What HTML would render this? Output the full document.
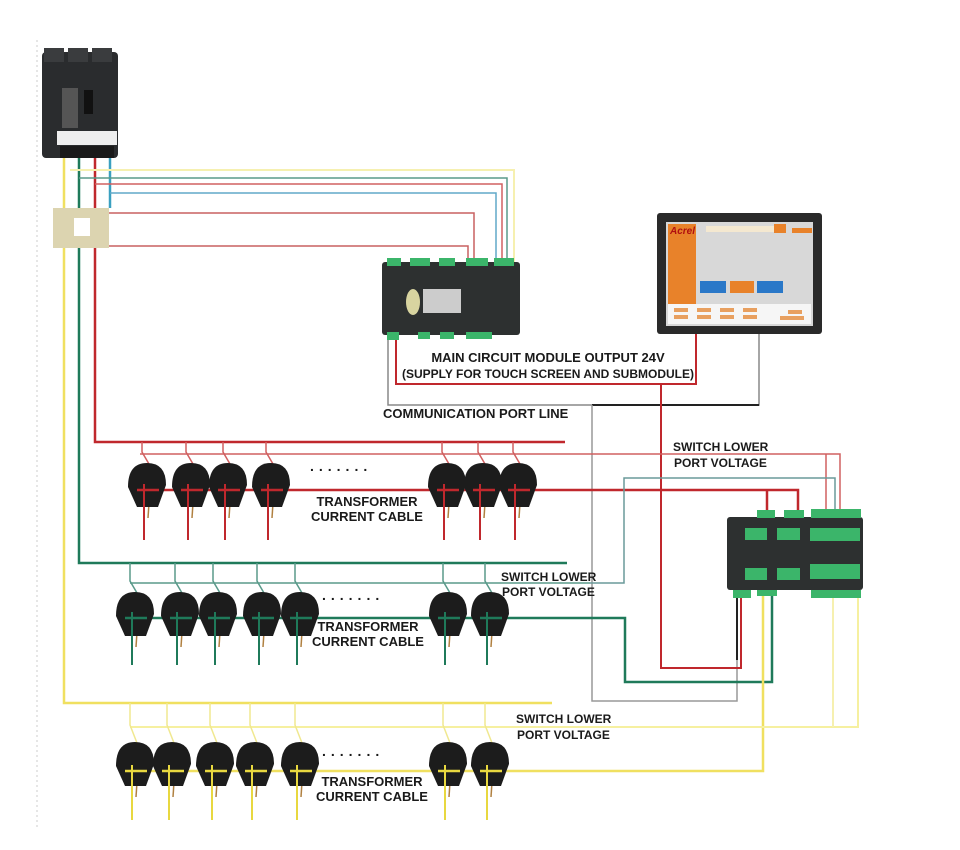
<!DOCTYPE html>
<html><head><meta charset="utf-8"><style>
html,body{margin:0;padding:0;background:#fff}
svg{display:block}
text{font-family:"Liberation Sans",Arial,sans-serif;font-weight:bold;fill:#1a1a1a}
</style></head><body>
<svg id="s" width="960" height="850" viewBox="0 0 960 850" xmlns="http://www.w3.org/2000/svg">
<line x1="37" y1="40" x2="37" y2="830" stroke="#ddd" stroke-width="1.5" stroke-dasharray="2,3"/>
<g fill="none" stroke-linejoin="miter">
<polyline points="64,158 64,703 552,703" stroke="#f0e060" stroke-width="2.5"/>
<polyline points="79,158 79,563 567,563" stroke="#1f7a5a" stroke-width="2.5"/>
<polyline points="95,158 95,442 565,442" stroke="#c0282d" stroke-width="2.5"/>
<line x1="110" y1="158" x2="110" y2="208" stroke="#3aa0c0" stroke-width="2.5"/>
<polyline points="70,170 514,170 514,262" stroke="#f6f0b0" stroke-width="2"/>
<polyline points="79,178 507,178 507,262" stroke="#5a9a8a" stroke-width="1.5"/>
<polyline points="95,184 502,184 502,262" stroke="#d06060" stroke-width="1.5"/>
<polyline points="110,193 496,193 496,262" stroke="#60a8c8" stroke-width="1.5"/>
<polyline points="109,213 474,213 474,262" stroke="#c86060" stroke-width="1.5"/>
<polyline points="109,246 468,246 468,262" stroke="#c86060" stroke-width="1.5"/>
<polyline points="396,335 396,384 696,384 696,334" stroke="#c0282d" stroke-width="2"/>
<polyline points="388,335 388,405 759,405 759,334" stroke="#888" stroke-width="1.5"/>
<line x1="592" y1="405" x2="759" y2="405" stroke="#222" stroke-width="2"/>
<polyline points="592,405 592,701 737,701 737,593" stroke="#999" stroke-width="1.5"/>
<line x1="737" y1="660" x2="737" y2="593" stroke="#222" stroke-width="2"/>
<polyline points="661,384 661,668 741,668 741,593" stroke="#c0282d" stroke-width="2"/>
<polyline points="135,618 625,618 625,682 772,682 772,593" stroke="#1f7a5a" stroke-width="2.5"/>
<polyline points="135,771 763,771 763,593" stroke="#f0e060" stroke-width="2.5"/>
<polyline points="145,490 798,490 798,510" stroke="#c0282d" stroke-width="2.5"/>
<polyline points="767,490 767,510" stroke="#c0282d" stroke-width="2.5"/>
<polyline points="140,454 840,454 840,510" stroke="#d06060" stroke-width="1.5"/>
<line x1="826" y1="454" x2="826" y2="510" stroke="#d06060" stroke-width="1.5"/>
<polyline points="590,583 624,583 624,478 835,478 835,510" stroke="#6a9a9a" stroke-width="1.5"/>
<polyline points="130,583 590,583" stroke="#5a9a8a" stroke-width="1.5"/>
<polyline points="130,727 858,727 858,593" stroke="#f6f0a0" stroke-width="2"/>
<line x1="833" y1="593" x2="833" y2="727" stroke="#f6f0b0" stroke-width="2"/>
</g>
<g id="cts"></g>
<rect x="42" y="52" width="76" height="106" rx="4" fill="#2a2c2e"/>
<rect x="44" y="48" width="20" height="14" fill="#3a3c3e"/><rect x="68" y="48" width="20" height="14" fill="#3a3c3e"/><rect x="92" y="48" width="20" height="14" fill="#3a3c3e"/>
<rect x="62" y="88" width="16" height="40" fill="#555"/><rect x="84" y="90" width="9" height="24" fill="#111"/>
<rect x="57" y="131" width="60" height="14" fill="#eee"/>
<rect x="60" y="146" width="54" height="12" fill="#1a1a1a"/>
<rect x="53" y="208" width="56" height="40" fill="#dcd4b0"/>
<rect x="74" y="218" width="16" height="18" fill="#fff"/>
<rect x="382" y="262" width="138" height="73" rx="3" fill="#2d3030"/>
<g fill="#3bb56a"><rect x="387" y="258" width="14" height="8"/><rect x="410" y="258" width="20" height="8"/><rect x="439" y="258" width="16" height="8"/><rect x="466" y="258" width="22" height="8"/><rect x="494" y="258" width="20" height="8"/>
<rect x="387" y="332" width="12" height="8"/><rect x="418" y="332" width="12" height="7"/><rect x="440" y="332" width="14" height="7"/><rect x="466" y="332" width="26" height="7"/></g>
<ellipse cx="413" cy="302" rx="7" ry="13" fill="#d8d4a0"/>
<rect x="423" y="289" width="38" height="24" fill="#ccc"/>
<rect x="657" y="213" width="165" height="121" rx="3" fill="#2a2a2a"/>
<rect x="666" y="222" width="147" height="104" fill="#d8d8d8"/>
<rect x="668" y="224" width="28" height="80" fill="#e8822a"/>
<text x="670" y="234" font-size="10" style="fill:#b01010;font-style:italic">Acrel</text>
<rect x="706" y="226" width="68" height="6" fill="#f4e8d0"/><rect x="774" y="224" width="12" height="9" fill="#e8822a"/><rect x="792" y="228" width="20" height="5" fill="#e8822a"/>
<rect x="700" y="281" width="26" height="12" fill="#2a78c8"/><rect x="730" y="281" width="24" height="12" fill="#e8822a"/><rect x="757" y="281" width="26" height="12" fill="#2a78c8"/>
<rect x="668" y="304" width="143" height="20" fill="#f6f6f6"/>
<g fill="#e8a060"><rect x="674" y="308" width="14" height="4"/><rect x="697" y="308" width="14" height="4"/><rect x="720" y="308" width="14" height="4"/><rect x="743" y="308" width="14" height="4"/><rect x="674" y="315" width="14" height="4"/><rect x="697" y="315" width="14" height="4"/><rect x="720" y="315" width="14" height="4"/><rect x="743" y="315" width="14" height="4"/><rect x="788" y="310" width="14" height="4"/><rect x="780" y="316" width="24" height="4"/></g>
<rect x="727" y="517" width="136" height="73" rx="3" fill="#2d3030"/>
<g fill="#3bb56a"><rect x="757" y="510" width="18" height="8"/><rect x="784" y="510" width="20" height="8"/><rect x="811" y="509" width="50" height="9"/>
<rect x="745" y="528" width="22" height="12"/><rect x="777" y="528" width="23" height="12"/><rect x="810" y="528" width="50" height="13"/>
<rect x="745" y="568" width="22" height="12"/><rect x="777" y="568" width="23" height="12"/><rect x="810" y="564" width="50" height="15"/>
<rect x="733" y="590" width="18" height="8"/><rect x="757" y="590" width="20" height="6"/><rect x="811" y="590" width="50" height="8"/></g>
<g font-size="13">
<text x="548" y="362" text-anchor="middle">MAIN CIRCUIT MODULE OUTPUT 24V</text>
<text x="548" y="378" text-anchor="middle" font-size="12">(SUPPLY FOR TOUCH SCREEN AND SUBMODULE)</text>
<text x="383" y="418">COMMUNICATION PORT LINE</text>
<text x="673" y="451" font-size="12">SWITCH LOWER</text><text x="674" y="467" font-size="12">PORT VOLTAGE</text>
<text x="501" y="581" font-size="12">SWITCH LOWER</text><text x="502" y="596" font-size="12">PORT VOLTAGE</text>
<text x="516" y="723" font-size="12">SWITCH LOWER</text><text x="517" y="739" font-size="12">PORT VOLTAGE</text>
<text x="367" y="506" text-anchor="middle">TRANSFORMER</text><text x="367" y="521" text-anchor="middle">CURRENT CABLE</text>
<text x="368" y="631" text-anchor="middle">TRANSFORMER</text><text x="368" y="646" text-anchor="middle">CURRENT CABLE</text>
<text x="372" y="786" text-anchor="middle">TRANSFORMER</text><text x="372" y="801" text-anchor="middle">CURRENT CABLE</text>
<text x="310" y="471" font-size="14" letter-spacing="5">.......</text>
<text x="322" y="600" font-size="14" letter-spacing="5">.......</text>
<text x="322" y="756" font-size="14" letter-spacing="5">.......</text>
</g>
</svg>
<script>
var g=document.getElementById('cts'),h='';
function row(xs,cy,main,thin,col,tcol,line,bot){
 xs.forEach(function(x){
  var tx=x-5;
  h+='<polyline points="'+tx+','+main+' '+tx+','+(thin-2)+' '+(tx+7)+','+(cy-24)+'" fill="none" stroke="'+tcol+'" stroke-width="1.5"/>';
  h+='<line x1="'+(x-3)+'" y1="'+cy+'" x2="'+(x-3)+'" y2="'+bot+'" stroke="'+col+'" stroke-width="2"/>';
  h+='<line x1="'+(x+3)+'" y1="'+cy+'" x2="'+(x+1)+'" y2="'+(cy+30)+'" stroke="#b08040" stroke-width="1.5"/>';
  h+='<path d="M'+(x-19)+','+(cy-1)+' Q'+(x-19)+','+(cy-25)+' '+x+','+(cy-25)+' Q'+(x+19)+','+(cy-25)+' '+(x+19)+','+(cy-3)+' L'+(x+11)+','+(cy+19)+' L'+(x-10)+','+(cy+19)+' Z" fill="#1c1c1c"/>';
  h+='<line x1="'+(x-10)+'" y1="'+line+'" x2="'+(x+12)+'" y2="'+line+'" stroke="'+col+'" stroke-width="2.5"/>';
  h+='<line x1="'+(x-3)+'" y1="'+(line-6)+'" x2="'+(x-3)+'" y2="'+(cy+19)+'" stroke="'+col+'" stroke-width="2"/>';
 });
}
row([147,191,228,271,447,483,518],488,442,454,'#c0282d','#d06060',490,540);
row([135,180,218,262,300,448,490],617,563,583,'#1f7a5a','#5a9a8a',618,665);
row([135,172,215,255,300,448,490],767,703,727,'#e8d840','#f0e890',771,820);
g.innerHTML=h;
</script>
</body></html>
